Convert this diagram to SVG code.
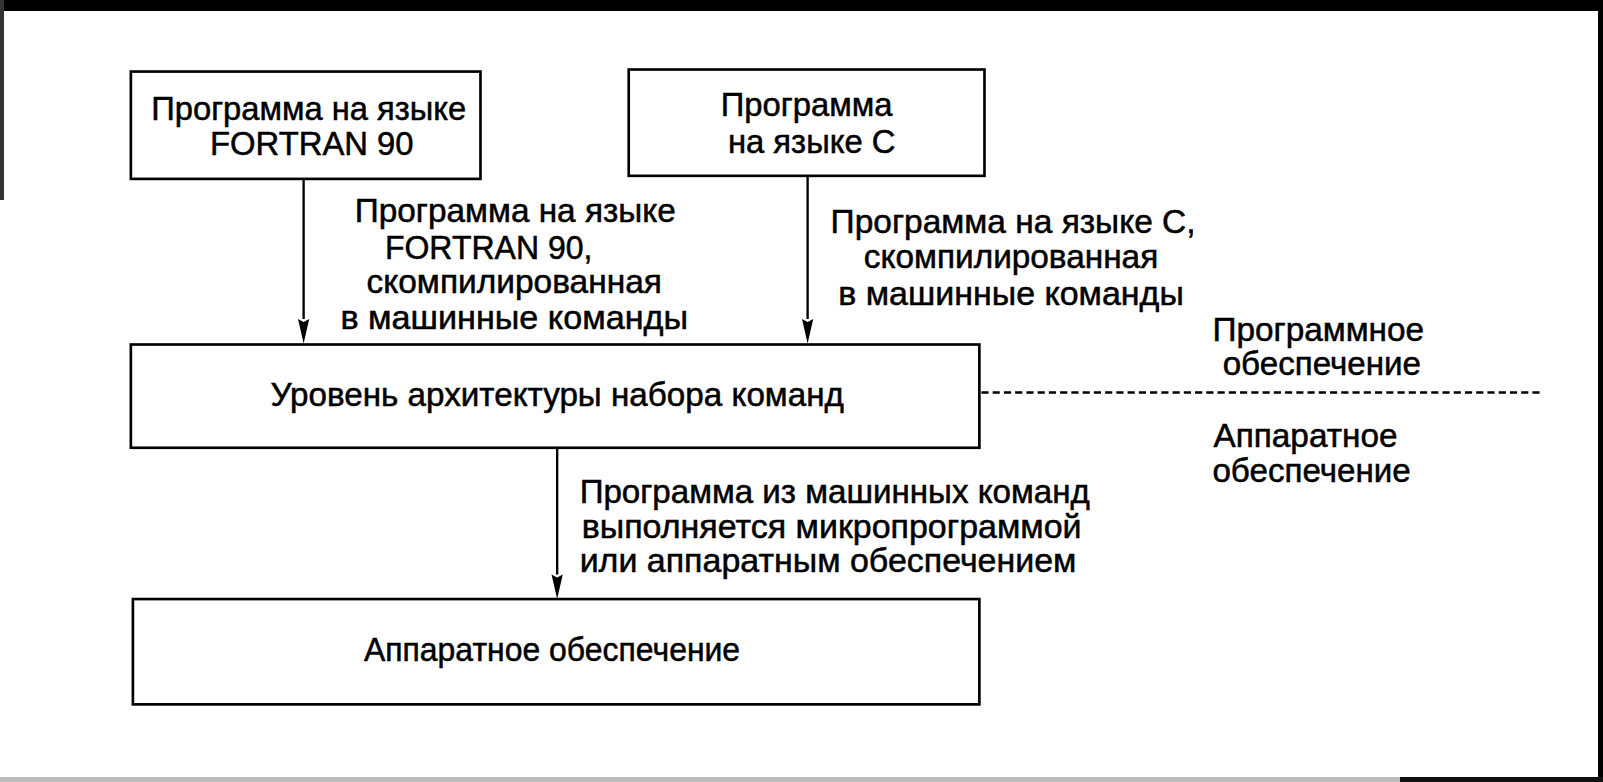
<svg xmlns="http://www.w3.org/2000/svg" width="1603" height="782" viewBox="0 0 1603 782">
<style>
.box{fill:#fff;stroke:#000;stroke-width:2.6}
.t{font-family:"Liberation Sans",Arial,sans-serif;font-size:32px;fill:#000;stroke:#000;stroke-width:0.5;text-anchor:middle}
.tl{font-family:"Liberation Sans",Arial,sans-serif;font-size:32px;fill:#000;stroke:#000;stroke-width:0.5;text-anchor:start}
.ln{stroke:#000;stroke-width:2.3;fill:none}
.dash{stroke:#000;stroke-width:2.4;stroke-dasharray:7,4;fill:none}
.head{fill:#000}
</style>
<rect x="0" y="0" width="1603" height="782" fill="#fff"/>
<g id="scan-edges">
<rect x="0" y="0" width="1603" height="11" fill="#000"/>
<rect x="1598" y="0" width="5" height="782" fill="#000"/>
<rect x="0" y="0" width="4" height="200" fill="#333"/>
<rect x="0" y="777" width="1603" height="5" fill="#bbb"/>
<rect x="1400" y="777" width="203" height="5" fill="#111"/>
</g>
<g transform="scale(1.0223)">
<g id="connectors">
<path d="M297,176 V312" class="ln"/>
<path class="head" d="M291.5,312 L297,336 L302.5,312 L297,315 Z"/>
<path d="M790,172 V312" class="ln"/>
<path class="head" d="M784.5,312 L790,336 L795.5,312 L790,315 Z"/>
<path d="M545,438 V562" class="ln"/>
<path class="head" d="M539.5,562 L545,586 L550.5,562 L545,565 Z"/>
<line class="dash" x1="960" y1="384" x2="1508" y2="384"/>
</g>
<g id="node-fortran">
<rect class="box" x="128" y="70" width="342" height="105"/>
<text class="t" x="302" y="117" textLength="308" lengthAdjust="spacingAndGlyphs">Программа на языке</text>
<text class="t" x="305" y="152" textLength="199" lengthAdjust="spacingAndGlyphs">FORTRAN 90</text>
</g>
<g id="node-c">
<rect class="box" x="615" y="68" width="348" height="104"/>
<text class="t" x="789" y="113" textLength="168" lengthAdjust="spacingAndGlyphs">Программа</text>
<text class="t" x="794" y="150" textLength="164" lengthAdjust="spacingAndGlyphs">на языке С</text>
</g>
<g id="label-fortran">
<text class="t" x="504" y="217" textLength="314" lengthAdjust="spacingAndGlyphs">Программа на языке</text>
<text class="t" x="478" y="253" textLength="203" lengthAdjust="spacingAndGlyphs">FORTRAN 90,</text>
<text class="t" x="503" y="287" textLength="289" lengthAdjust="spacingAndGlyphs">скомпилированная</text>
<text class="t" x="503" y="322" textLength="340" lengthAdjust="spacingAndGlyphs">в машинные команды</text>
</g>
<g id="label-c">
<text class="t" x="991" y="228" textLength="357" lengthAdjust="spacingAndGlyphs">Программа на языке С,</text>
<text class="t" x="989" y="262" textLength="288" lengthAdjust="spacingAndGlyphs">скомпилированная</text>
<text class="t" x="989" y="298" textLength="338" lengthAdjust="spacingAndGlyphs">в машинные команды</text>
</g>
<g id="node-isa">
<rect class="box" x="128" y="337" width="830" height="101"/>
<text class="t" x="545" y="397" textLength="561" lengthAdjust="spacingAndGlyphs">Уровень архитектуры набора команд</text>
</g>
<g id="label-software">
<text class="tl" x="1186" y="334" textLength="207" lengthAdjust="spacingAndGlyphs">Программное</text>
<text class="tl" x="1196" y="367" textLength="194" lengthAdjust="spacingAndGlyphs">обеспечение</text>
</g>
<g id="label-hardware">
<text class="tl" x="1187" y="437" textLength="180" lengthAdjust="spacingAndGlyphs">Аппаратное</text>
<text class="tl" x="1186" y="471" textLength="194" lengthAdjust="spacingAndGlyphs">обеспечение</text>
</g>
<g id="label-exec">
<text class="tl" x="567" y="492" textLength="499" lengthAdjust="spacingAndGlyphs">Программа из машинных команд</text>
<text class="tl" x="569" y="526" textLength="489" lengthAdjust="spacingAndGlyphs">выполняется микропрограммой</text>
<text class="tl" x="567" y="560" textLength="486" lengthAdjust="spacingAndGlyphs">или аппаратным обеспечением</text>
</g>
<g id="node-hw">
<rect class="box" x="130" y="586" width="828" height="103"/>
<text class="t" x="540" y="647" textLength="368" lengthAdjust="spacingAndGlyphs">Аппаратное обеспечение</text>
</g>
</g>
</svg>
